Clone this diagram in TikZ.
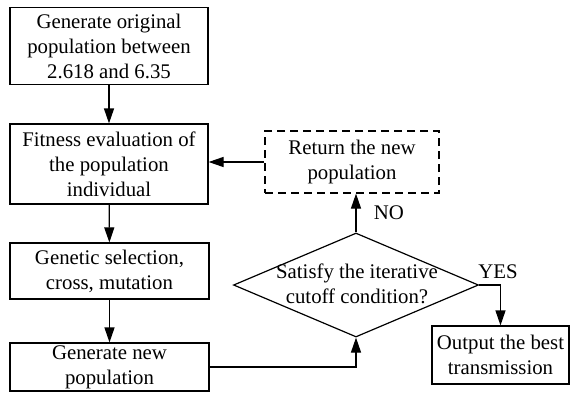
\documentclass[tikz,border=0pt]{standalone}
\usepackage{fontspec}
\setmainfont{Liberation Serif}
\usetikzlibrary{arrows.meta}
\usetikzlibrary{shapes.geometric}
\usetikzlibrary{positioning}

\begin{document}
\begin{tikzpicture}[x=1pt,y=-1pt,
  every node/.style={font=\fontsize{20.8pt}{25pt}\selectfont, align=center},
  box/.style={draw, line width=1.2pt, inner sep=0pt},
  dbox/.style={box, dash pattern=on 8pt off 5pt},
  arr/.style={line width=1.2pt, -{Triangle[length=15pt,width=10pt]}}]
  \useasboundingbox (0,0) rectangle (570,392);
  \node[box, minimum width=198pt, minimum height=77pt] (B1) at (109,46)
        {Generate original\\population between\\2.618 and 6.35};
  \node[box, minimum width=198pt, minimum height=80pt] (B2) at (109,164)
        {Fitness evaluation of\\the population\\individual};
  \node[box, minimum width=199pt, minimum height=56pt] (B3) at (109.5,271)
        {Genetic selection,\\cross, mutation};
  \node[box, minimum width=199pt, minimum height=48pt] (B4) at (109.5,367)
        {Generate new\\population};
  \node[dbox, minimum width=174pt, minimum height=62pt] (R) at (352,162)
        {Return the new\\population};
  \node[box, diamond, minimum width=245pt, minimum height=104pt] (D) at (356,285) {};
  \node (Dtext) at (357,284) {Satisfy the iterative\\cutoff condition?};
  \node[box, minimum width=137pt, minimum height=58pt] (O) at (500.5,355)
        {Output the best\\transmission};
  \draw[arr] (B1) -- (B2);
  \draw[arr] (B2) -- (B3);
  \draw[arr] (B3) -- (B4);
  \draw[arr] (B4.east) -| (D.south);
  \draw[arr] (D.north) -- (D.north |- R.south) node[midway, right=14pt] {NO};
  \draw[arr] (R.west) -- (R.west -| B2.east);
  \draw[arr] (D.east) -| (O.north) node[pos=0.44, above=2pt] {YES};
\end{tikzpicture}
\end{document}
